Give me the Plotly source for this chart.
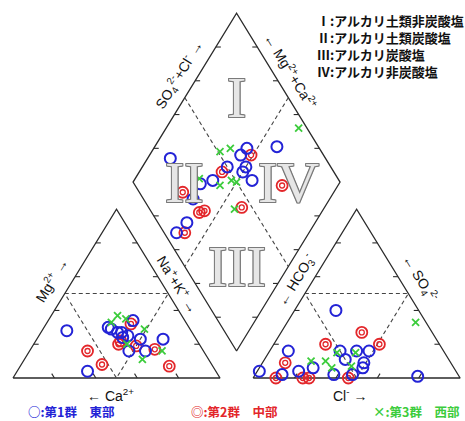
import numpy as np
import plotly.graph_objects as go

W, H = 465, 421
S3 = np.sqrt(3) / 2
GAP = 16  # spacing between the two triangles, in percent units

# ---- cation triangle: (Ca2+ %, Mg2+ %) ----
cat_g1_ca = [60, 25, 38, 36, 34, 32, 35, 27, 16, 36, 28, 62, 39]
cat_g1_mg = [28, 34, 29, 27, 27, 25, 24, 23, 23, 16, 16, 4, 30]
cat_g2_ca = [56, 53, 27, 39, 31, 23, 21, 37]
cat_g2_mg = [16, 8, 32, 20, 19, 17, 7, 22]
cat_g3_ca = [31, 28, 36, 22, 35, 20, 32]
cat_g3_mg = [37, 35, 33, 29, 20, 16, 11]

# ---- anion triangle: (Cl- %, SO4 2- %) ----
an_g1_cl = [20, 1, 9, 13, 20, 26, 38, 34, 39, 42, 48, 49, 50, 47, 79]
an_g1_so4 = [40, 4, 16, 2, 4, 6, 2, 16, 11, 16, 16, 9, 6, 2, 1]
an_g2_cl = [11, 11, 24, 27, 46, 25, 39, 51]
an_g2_so4 = [9, 0, 0, 0, 0, 20, 27, 20]
an_g3_cl = [23, 30, 35, 33, 42, 44, 62]
an_g3_so4 = [10, 10, 6, 15, 15, 7, 33]

# ---- diamond: (Ca2+ + Mg2+ %, SO4 2- + Cl- %) ----
dm_g1_camg = [89, 55, 56, 59, 50, 50, 62, 67, 43, 66, 62, 64, 41]
dm_g1_so4cl = [25, 65, 60, 50, 59, 56, 39, 32, 58, 24, 14, 6, 80]
dm_g2_camg = [51, 60, 73, 59, 57, 40, 60, 27]
dm_g2_so4cl = [65, 46, 21, 23, 26, 45, 10, 71]
dm_g3_camg = [67, 63, 69, 53, 50, 57, 43, 36]
dm_g3_so4cl = [51, 57, 33, 48, 50, 41, 41, 96]

region_labels = ["I", "II", "III", "IV"]
legend_lines = ["Ⅰ:アルカリ土類非炭酸塩", "Ⅱ:アルカリ土類炭酸塩",
                "Ⅲ:アルカリ炭酸塩", "Ⅳ:アルカリ非炭酸塩"]
group_labels = ["○:第1群　東部", "◎:第2群　中部", "×:第3群　西部"]

BLUE, RED, GREEN = "#2323d6", "#e3262a", "#3ccc3c"
LINE = "#2a2a2a"

AX0 = 100 + GAP  # left edge of the anion triangle
BX, BY = 100 + GAP / 2, GAP * S3  # bottom vertex of the diamond


def cation_xy(ca, mg):
    ca, mg = np.asarray(ca, float), np.asarray(mg, float)
    nak = 100 - ca - mg
    return nak + mg / 2, mg * S3


def anion_xy(cl, so4):
    cl, so4 = np.asarray(cl, float), np.asarray(so4, float)
    return AX0 + cl + so4 / 2, so4 * S3


def diamond_xy(camg, so4cl):
    camg, so4cl = np.asarray(camg, float), np.asarray(so4cl, float)
    return BX + (so4cl - camg) / 2, BY + (camg + so4cl) * S3


fig = go.Figure()


def add_line(xs, ys, dash="solid", width=1.3, color=LINE):
    fig.add_trace(go.Scatter(x=xs, y=ys, mode="lines", hoverinfo="skip",
                             line=dict(color=color, width=width, dash=dash),
                             showlegend=False))


# outlines
add_line([0, 100, 50, 0], [0, 0, 100 * S3, 0])
add_line([AX0, AX0 + 100, AX0 + 50, AX0], [0, 0, 100 * S3, 0])
dx, dy = diamond_xy([0, 100, 100, 0, 0], [0, 0, 100, 100, 0])
add_line(list(dx), list(dy))

# dashed dividing lines
for x0 in (0, AX0):
    add_line([x0 + 25, x0 + 75, x0 + 50, x0 + 25],
             [50 * S3, 50 * S3, 0, 50 * S3], dash="4px,3px", width=1.1, color="#444")
ex, ey = diamond_xy([100, 0], [50, 50])
add_line(list(ex), list(ey), dash="4px,3px", width=1.1, color="#444")
ex, ey = diamond_xy([50, 50], [100, 0])
add_line(list(ex), list(ey), dash="4px,3px", width=1.1, color="#444")

# tick marks
TL = 2.4  # horizontal tick length
tx, ty = [], []
for t in (20, 40, 60, 80):
    # cation triangle: left, right, bottom
    tx += [t / 2, t / 2 + TL, None, 100 - t / 2, 100 - t / 2 - TL, None,
           t, t - 1.3, None]
    ty += [t * S3, t * S3, None, t * S3, t * S3, None, 0, 2.6 * S3, None]
    # anion triangle: left, right, bottom
    tx += [AX0 + t / 2, AX0 + t / 2 + TL, None,
           AX0 + 100 - t / 2, AX0 + 100 - t / 2 - TL, None,
           AX0 + t, AX0 + t + 1.3, None]
    ty += [t * S3, t * S3, None, t * S3, t * S3, None, 0, 2.6 * S3, None]
    # diamond edges
    for (cm, sc, sgn) in ((100, t, 1), (t, 0, 1), (t, 100, -1), (0, t, -1)):
        px_, py_ = diamond_xy([cm], [sc])
        tx += [px_[0], px_[0] + sgn * TL, None]
        ty += [py_[0], py_[0], None]
fig.add_trace(go.Scatter(x=tx, y=ty, mode="lines", hoverinfo="skip",
                         line=dict(color=LINE, width=1.1), showlegend=False))


def add_group(x, y, group):
    if group == 1:
        fig.add_trace(go.Scatter(x=x, y=y, mode="markers", showlegend=False,
                                 marker=dict(symbol="circle-open", size=11, color=BLUE,
                                             line=dict(width=2, color=BLUE))))
    elif group == 2:
        fig.add_trace(go.Scatter(x=x, y=y, mode="markers", showlegend=False,
                                 marker=dict(symbol="circle-open", size=11, color=RED,
                                             line=dict(width=1.8, color=RED))))
        fig.add_trace(go.Scatter(x=x, y=y, mode="markers", showlegend=False,
                                 marker=dict(symbol="circle-open", size=5, color=RED,
                                             line=dict(width=1.3, color=RED))))
    else:
        fig.add_trace(go.Scatter(x=x, y=y, mode="markers", showlegend=False,
                                 marker=dict(symbol="x-thin-open", size=7, color=GREEN,
                                             line=dict(width=1.8, color=GREEN))))


for g, (ca, mg) in enumerate([(cat_g2_ca, cat_g2_mg), (cat_g1_ca, cat_g1_mg),
                              (cat_g3_ca, cat_g3_mg)]):
    add_group(*cation_xy(ca, mg), [2, 1, 3][g])
for g, (cl, so4) in enumerate([(an_g2_cl, an_g2_so4), (an_g1_cl, an_g1_so4),
                               (an_g3_cl, an_g3_so4)]):
    add_group(*anion_xy(cl, so4), [2, 1, 3][g])
for g, (cm, sc) in enumerate([(dm_g2_camg, dm_g2_so4cl), (dm_g1_camg, dm_g1_so4cl),
                              (dm_g3_camg, dm_g3_so4cl)]):
    add_group(*diamond_xy(cm, sc), [2, 1, 3][g])

# region numerals in the diamond (outlined glyphs)
rx, ry = diamond_xy([75, 75, 25, 25], [75, 25, 25, 75])
outline = ("1px 1px 0 #7a7a7a, -1px -1px 0 #7a7a7a, 1px -1px 0 #7a7a7a, -1px 1px 0 #7a7a7a,"
           " 0 1px 0 #7a7a7a, 0 -1px 0 #7a7a7a, 1px 0 0 #7a7a7a, -1px 0 0 #7a7a7a")
for lab, x, y in zip(region_labels, rx, ry):
    fig.add_annotation(x=x, y=y, text=lab, showarrow=False, xanchor="center",
                       yanchor="middle",
                       font=dict(family="Liberation Serif", size=58, color="#e6e6e6",
                                 shadow=outline))


def pp(px, py):
    return dict(x=px / W, y=1 - py / H, xref="paper", yref="paper")


AFONT = dict(family="Liberation Sans", size=14, color="#111")
ANG = 58.5
axis_labels = [
    ("SO<sub>4</sub><sup>2-</sup>+Cl<sup>-</sup> →", 179, 75, -ANG),
    ("← Mg<sup>2+</sup>+Ca<sup>2+</sup>", 291, 71, ANG),
    ("Mg<sup>2+</sup> →", 51, 280, -ANG),
    ("Na<sup>+</sup>+K<sup>+</sup> →", 178, 284, ANG),
    ("← Ca<sup>2+</sup>", 110, 395, 0),
    ("Cl<sup>-</sup> →", 350, 395, 0),
    ("← HCO<sub>3</sub><sup>-</sup>", 296, 280, -ANG),
    ("← SO<sub>4</sub><sup>2-</sup>", 420, 278, ANG),
]
for txt, px, py, ang in axis_labels:
    fig.add_annotation(**pp(px, py), text=txt, showarrow=False, textangle=ang,
                       xanchor="center", yanchor="middle", font=AFONT)

JFONT = "Noto Sans CJK JP"
fig.add_annotation(**pp(315, 46), text="<br>".join(legend_lines), showarrow=False,
                   xanchor="left", yanchor="middle", align="left",
                   font=dict(family=JFONT, size=13, color="#111", weight="bold"))

for (lab, px, col) in zip(group_labels, (26, 189, 371), (BLUE, RED, GREEN)):
    fig.add_annotation(**pp(px, 411), text=lab, showarrow=False,
                       xanchor="left", yanchor="middle",
                       font=dict(family=JFONT, size=12.5, color=col, weight="bold"))

fig.update_layout(
    width=W, height=H, margin=dict(l=0, r=0, t=0, b=0),
    paper_bgcolor="white", plot_bgcolor="white",
    xaxis=dict(range=[-13 / 2.07, (W - 13) / 2.07], visible=False, fixedrange=True),
    yaxis=dict(range=[-(H - 378) / 1.95, 378 / 1.95], visible=False, fixedrange=True),
)

fig.write_html("out.html")
